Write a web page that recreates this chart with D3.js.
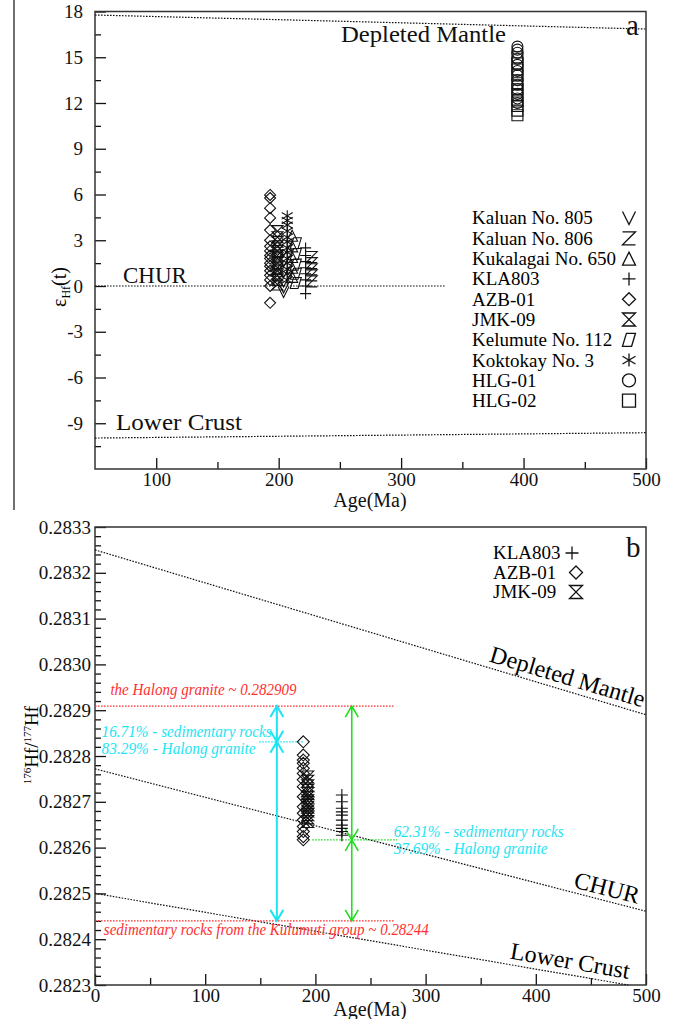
<!DOCTYPE html>
<html>
<head>
<meta charset="utf-8">
<script src="https://cdn.jsdelivr.net/npm/d3@7"></script>
<style>
  body { margin: 0; background: #fff; }
  svg, svg text { font-family: "Liberation Serif", "Times New Roman", Times, serif; }
</style>
</head>
<body>
<svg width="673" height="1019"></svg>
<script>
// ---------- panel a : eHf(t) vs age ----------
const kaluan805Age = 204, kaluan805Ehf = [-0.4, -0.1, 0.3, 0.9, 1.6, 2.3];
const kaluan806Age = 227, kaluan806Ehf = [0.3, 0.7, 1.1, 1.5, 1.9];
const kukalagai650Age = 211, kukalagai650Ehf = [0.6, 1.2, 1.9, 2.6, 3.3];
const kla803AgeA = 222, kla803Ehf = [-0.5, 0.0, 0.4, 0.8, 1.2, 1.6, 2.0, 2.5];
const azb01AgeA = 193, azb01Ehf = [5.97, 5.77, 5.1, 4.46, 3.67, 3.0, 2.6, 2.3, 2.0, 1.8, 1.5, 1.3, 1.0, 0.7, 0.4, 0.0, -1.1];
const jmk09AgeA = 199, jmk09Ehf = [3.6, 3.2, 2.9, 2.6, 2.3, 2.0, 1.8, 1.5, 1.2, 1.0, 0.7, 0.4, 0.1];
const kelumute112Age = 214, kelumute112Ehf = [0.2, 0.8, 1.4, 2.1, 2.8];
const koktokay3Age = 207, koktokay3Ehf = [4.6, 4.3, 4.0, 3.6, 3.2, 2.9, 2.5, 2.2, 1.8, 1.5, 1.1, 0.8, 0.4];
const hlg01Age = 395, hlg01Ehf = [15.7, 15.5, 15.3, 14.9, 14.5, 14.1, 13.8, 13.5, 13.2, 12.9, 12.6, 12.3, 12.0];
const hlg02Age = 395, hlg02Ehf = [15.0, 14.6, 14.2, 13.8, 13.3, 12.9, 12.5, 12.1, 11.8, 11.5, 11.2];

// reference lines (age, eHf)
const dmLineA = [[50, 17.77], [500, 16.85]];
const churLineA = [[50, 0], [336, 0]];
const lcLineA = [[50, -9.97], [500, -9.62]];

// ---------- panel b : 176Hf/177Hf vs age ----------
const kla803AgeB = 224, kla803Hf = [0.282715, 0.2827, 0.282686, 0.282678, 0.282671, 0.28266, 0.282649, 0.282642, 0.282635, 0.282627];
const azb01AgeB = 189, azb01Hf = [0.282831, 0.282802, 0.282791, 0.282784, 0.282773, 0.282762, 0.282748, 0.282733, 0.282711, 0.282689, 0.282675, 0.28266, 0.282646, 0.282635, 0.282624, 0.282617];
const jmk09AgeB = 193, jmk09Hf = [0.282754, 0.282745, 0.282735, 0.282725, 0.282718, 0.28271, 0.282702, 0.282695, 0.282688, 0.28268, 0.282672, 0.282665, 0.282657];

const dmLineB = [[0, 0.28325], [500, 0.28289]];
const churLineB = [[0, 0.282772], [500, 0.282461]];
const lcLineB = [[0, 0.2825], [484, 0.2823]];

// mixing annotation
const halongRatio = 0.282909, sedRatio = 0.28244;
const refLineEndAge = 271;
const cyanAge = 165, cyanMix = 0.282831, cyanTick = [149, 189];
const greenAge = 233, greenMix = 0.282617, greenTick = [197, 274];

const svg = d3.select("svg");
const ink = "#111";
const serif = "'Liberation Serif', 'Times New Roman', Times, serif";

const xA = d3.scaleLinear().domain([50, 500]).range([95, 646]);
const yA = d3.scaleLinear().domain([-12, 18]).range([469, 11.5]);
const xB = d3.scaleLinear().domain([0, 500]).range([95, 646]);
const yB = d3.scaleLinear().domain([0.2823, 0.2833]).range([985, 527]);

// symbol outlines, s = half size
const symbolPath = (type, s) => {
  switch (type) {
    case "v": return `M${-s},${-s}L0,${s}L${s},${-s}`;
    case "z": return `M${-s},${-s}H${s}L${-s},${s}H${s}`;
    case "tri": return `M0,${-s}L${s},${s}H${-s}Z`;
    case "plus": return `M${-s},0H${s}M0,${-s}V${s}`;
    case "diamond": return `M0,${-s}L${s},0L0,${s}L${-s},0Z`;
    case "hourglass": return `M${-s},${-s}H${s}L${-s},${s}H${s}Z`;
    case "para": return `M${-s * 0.4},${-s}H${s}L${s * 0.4},${s}H${-s}Z`;
    case "star": return `M0,${-s}V${s}M${-s},${-s * 0.6}L${s},${s * 0.6}M${-s},${s * 0.6}L${s},${-s * 0.6}`;
    case "circle": return `M${s},0A${s},${s} 0 1,1 ${-s},0A${s},${s} 0 1,1 ${s},0`;
    case "square": return `M${-s},${-s}H${s}V${s}H${-s}Z`;
  }
};

const seriesA = [
  { name: "Kaluan No. 805", sym: "v", age: kaluan805Age, vals: kaluan805Ehf },
  { name: "Kaluan No. 806", sym: "z", age: kaluan806Age, vals: kaluan806Ehf },
  { name: "Kukalagai No. 650", sym: "tri", age: kukalagai650Age, vals: kukalagai650Ehf },
  { name: "KLA803", sym: "plus", age: kla803AgeA, vals: kla803Ehf },
  { name: "AZB-01", sym: "diamond", age: azb01AgeA, vals: azb01Ehf },
  { name: "JMK-09", sym: "hourglass", age: jmk09AgeA, vals: jmk09Ehf },
  { name: "Kelumute No. 112", sym: "para", age: kelumute112Age, vals: kelumute112Ehf },
  { name: "Koktokay No. 3", sym: "star", age: koktokay3Age, vals: koktokay3Ehf },
  { name: "HLG-01", sym: "circle", age: hlg01Age, vals: hlg01Ehf },
  { name: "HLG-02", sym: "square", age: hlg02Age, vals: hlg02Ehf }
];

const seriesB = [
  { name: "KLA803", sym: "plus", age: kla803AgeB, vals: kla803Hf },
  { name: "AZB-01", sym: "diamond", age: azb01AgeB, vals: azb01Hf },
  { name: "JMK-09", sym: "hourglass", age: jmk09AgeB, vals: jmk09Hf }
];

// stray rule on the left margin of the page
svg.append("line").attr("x1", 14).attr("x2", 14).attr("y1", 0).attr("y2", 510)
  .attr("stroke", ink).attr("stroke-width", 1.2);

const txt = (g, x, y, size, s) => g.append("text").attr("x", x).attr("y", y)
  .attr("font-family", serif).attr("font-size", size).attr("fill", ink).text(s);

//Axes with ticks pointing into the plot
const drawAxes = (g, x, y, opt) => {
  const [bottom, top] = y.range();
  const styleAxis = sel => {
    sel.attr("font-family", serif);
    sel.select(".domain").remove();
    sel.selectAll("line").attr("stroke", ink).attr("stroke-width", 1.3);
    sel.selectAll("text").attr("font-family", serif).attr("font-size", 19).attr("fill", ink);
  };
  g.append("g").attr("transform", `translate(0,${bottom})`)
    .call(d3.axisBottom(x).tickValues(opt.xMajor).tickSizeInner(-11).tickSizeOuter(0).tickPadding(3).tickFormat(d3.format("d")))
    .call(styleAxis);
  g.append("g").attr("transform", `translate(0,${bottom})`)
    .call(d3.axisBottom(x).tickValues(opt.xMinor).tickSizeInner(-7).tickSizeOuter(0).tickFormat(""))
    .call(styleAxis);
  g.append("g").attr("transform", `translate(${x.range()[0]},0)`)
    .call(d3.axisLeft(y).tickValues(opt.yMajor).tickSizeInner(-11).tickSizeOuter(0).tickPadding(opt.yPad).tickFormat(opt.yFmt))
    .call(styleAxis);
  g.append("g").attr("transform", `translate(${x.range()[0]},0)`)
    .call(d3.axisLeft(y).tickValues(opt.yMinor).tickSizeInner(-6).tickSizeOuter(0).tickFormat(""))
    .call(styleAxis);
  g.append("rect")
    .attr("x", x.range()[0]).attr("y", top)
    .attr("width", x.range()[1] - x.range()[0]).attr("height", bottom - top)
    .attr("fill", "none").attr("stroke", "#333").attr("stroke-width", 1.5);
};

const dotted = (g, pts, x, y, color) => g.append("path")
  .attr("d", d3.line().x(d => x(d[0])).y(d => y(d[1]))(pts))
  .attr("fill", "none").attr("stroke", color || ink).attr("stroke-width", 1.2)
  .attr("stroke-dasharray", "1.6 1.4");

const drawPoints = (g, series, x, y, s) => {
  series.forEach(sr => {
    g.selectAll(null).data(sr.vals).enter().append("path")
      .attr("transform", v => `translate(${x(sr.age)},${y(v)})`)
      .attr("d", symbolPath(sr.sym, s))
      .attr("fill", "none").attr("stroke", ink).attr("stroke-width", 1.1);
  });
};

// ================= panel a =================
const gA = svg.append("g");
drawAxes(gA, xA, yA, {
  xMajor: [100, 200, 300, 400, 500],
  xMinor: [150, 250, 350, 450],
  yMajor: d3.range(-9, 19, 3),
  yMinor: d3.range(-10.5, 18, 3),
  yPad: 12,
  yFmt: d => String(d)        // plain hyphen minus, as in the figure
});

dotted(gA, dmLineA, xA, yA);
dotted(gA, churLineA, xA, yA);
dotted(gA, lcLineA, xA, yA);

txt(gA, 341, 42, 23, "Depleted Mantle").attr("textLength", 165).attr("lengthAdjust", "spacingAndGlyphs");
txt(gA, 123, 283, 23, "CHUR");
txt(gA, 116, 430, 23, "Lower Crust").attr("textLength", 126).attr("lengthAdjust", "spacingAndGlyphs");
txt(gA, 626, 35, 29, "a");

drawPoints(gA, seriesA, xA, yA, 5.5);

// legend a
const legA = gA.append("g").selectAll("g").data(seriesA).enter().append("g")
  .attr("transform", (d, i) => `translate(0,${218 + i * 20.3})`);
legA.append("text").attr("x", 472).attr("dy", "0.34em")
  .attr("font-family", serif).attr("font-size", 19).text(d => d.name);
legA.append("path").attr("transform", "translate(629,0)")
  .attr("d", d => symbolPath(d.sym, 6.5))
  .attr("fill", "none").attr("stroke", ink).attr("stroke-width", 1.3);

// axis titles a
txt(gA, 370, 507, 20, "Age(Ma)").attr("text-anchor", "middle");
const yTitleA = gA.append("text").attr("transform", "translate(66,287) rotate(-90)")
  .attr("text-anchor", "middle").attr("font-family", serif).attr("font-size", 20);
yTitleA.append("tspan").text("\u03b5");
yTitleA.append("tspan").attr("font-size", 12).attr("dy", 4).text("Hf");
yTitleA.append("tspan").attr("dy", -4).text("(t)");

// ================= panel b =================
const gB = svg.append("g");
const fmtB = d3.format(".4f");
drawAxes(gB, xB, yB, {
  xMajor: [0, 100, 200, 300, 400, 500],
  xMinor: [50, 150, 250, 350, 450],
  yMajor: d3.range(0, 11).map(i => 0.2823 + i * 0.0001),
  yMinor: d3.range(0, 51).filter(i => i % 5 !== 0).map(i => 0.2823 + i * 0.00002),
  yPad: 4,
  yFmt: fmtB
});

dotted(gB, dmLineB, xB, yB);
dotted(gB, churLineB, xB, yB);
dotted(gB, lcLineB, xB, yB);

// rotated labels sitting on their lines
const lineLabel = (pts, endAge, text, lift) => {
  const [p0, p1] = pts;
  const ang = Math.atan2(yB(p1[1]) - yB(p0[1]), xB(p1[0]) - xB(p0[0])) * 180 / Math.PI;
  const v = p0[1] + (p1[1] - p0[1]) * (endAge - p0[0]) / (p1[0] - p0[0]);
  gB.append("text")
    .attr("transform", `translate(${xB(endAge)},${yB(v)}) rotate(${ang})`)
    .attr("y", -lift).attr("text-anchor", "end")
    .attr("font-family", serif).attr("font-size", 24).text(text);
};
lineLabel(dmLineB, 495, "Depleted Mantle", 6);
lineLabel(churLineB, 491, "CHUR", 5);
lineLabel(lcLineB, 483, "Lower Crust", 6);

txt(gB, 626, 557, 29, "b");

// red end-member lines
const red = "#ff3030", cyan = "#1ee4f2", green = "#22dd22";
dotted(gB, [[0, halongRatio], [refLineEndAge, halongRatio]], xB, yB, red);
dotted(gB, [[0, sedRatio], [refLineEndAge, sedRatio]], xB, yB, red);
gB.append("text").attr("x", xB(14)).attr("y", yB(halongRatio) - 11)
  .attr("font-family", serif).attr("font-size", 16).attr("font-style", "italic").attr("fill", red)
  .attr("textLength", 186).attr("lengthAdjust", "spacingAndGlyphs")
  .text("the Halong granite ~ 0.282909");
gB.append("text").attr("x", xB(8)).attr("y", yB(sedRatio) + 14)
  .attr("font-family", serif).attr("font-size", 16).attr("font-style", "italic").attr("fill", red)
  .attr("textLength", 325).attr("lengthAdjust", "spacingAndGlyphs")
  .text("sedimentary rocks from the Kulumuti group ~ 0.28244");

// double arrows
const arrow = (age, v1, v2, color, w) => {
  const x = xB(age), ya = yB(v1), yb = yB(v2);
  const dir = yb > ya ? 1 : -1;
  gB.append("path")
    .attr("d", `M${x},${ya}V${yb}` +
      `M${x - 6.5},${ya + dir * 11}L${x},${ya}L${x + 6.5},${ya + dir * 11}` +
      `M${x - 6.5},${yb - dir * 11}L${x},${yb}L${x + 6.5},${yb - dir * 11}`)
    .attr("fill", "none").attr("stroke", color).attr("stroke-width", w);
};
arrow(cyanAge, halongRatio, cyanMix, cyan, 2);
arrow(cyanAge, cyanMix, sedRatio, cyan, 2);
arrow(greenAge, halongRatio, greenMix, green, 1.6);
arrow(greenAge, greenMix, sedRatio, green, 1.6);
dotted(gB, [[cyanTick[0], cyanMix], [cyanTick[1], cyanMix]], xB, yB, cyan);
dotted(gB, [[greenTick[0], greenMix], [greenTick[1], greenMix]], xB, yB, green);

const note = (age, v, dy, text, len) => gB.append("text").attr("x", xB(age)).attr("y", yB(v) + dy)
  .attr("font-family", serif).attr("font-size", 16).attr("font-style", "italic").attr("fill", cyan)
  .attr("textLength", len).attr("lengthAdjust", "spacingAndGlyphs").text(text);
note(6, cyanMix, -5, "16.71% - sedimentary rocks", 170);
note(6, cyanMix, 12, "83.29% - Halong granite", 154);
note(271, greenMix, -3, "62.31% - sedimentary rocks", 170);
note(271, greenMix, 14, "37.69% - Halong granite", 154);

drawPoints(gB, seriesB, xB, yB, 6);

// legend b
const legB = gB.append("g").selectAll("g").data(seriesB).enter().append("g")
  .attr("transform", (d, i) => `translate(0,${553 + i * 19.5})`);
legB.append("text").attr("x", 493).attr("dy", "0.34em")
  .attr("font-family", serif).attr("font-size", 19).text(d => d.name);
legB.append("path").attr("transform", (d, i) => `translate(${i === 0 ? 572 : 576},0)`)
  .attr("d", d => symbolPath(d.sym, 6.5))
  .attr("fill", "none").attr("stroke", ink).attr("stroke-width", 1.3);

// axis titles b
txt(gB, 370, 1016, 20, "Age(Ma)").attr("text-anchor", "middle");
const yTitleB = gB.append("text").attr("transform", "translate(38,745) rotate(-90)")
  .attr("text-anchor", "middle").attr("font-family", serif).attr("font-size", 19);
yTitleB.append("tspan").attr("font-size", 11).attr("dy", -7).text("176");
yTitleB.append("tspan").attr("dy", 7).text("Hf/");
yTitleB.append("tspan").attr("font-size", 11).attr("dy", -7).text("177");
yTitleB.append("tspan").attr("dy", 7).text("Hf");
</script>
</body>
</html>
